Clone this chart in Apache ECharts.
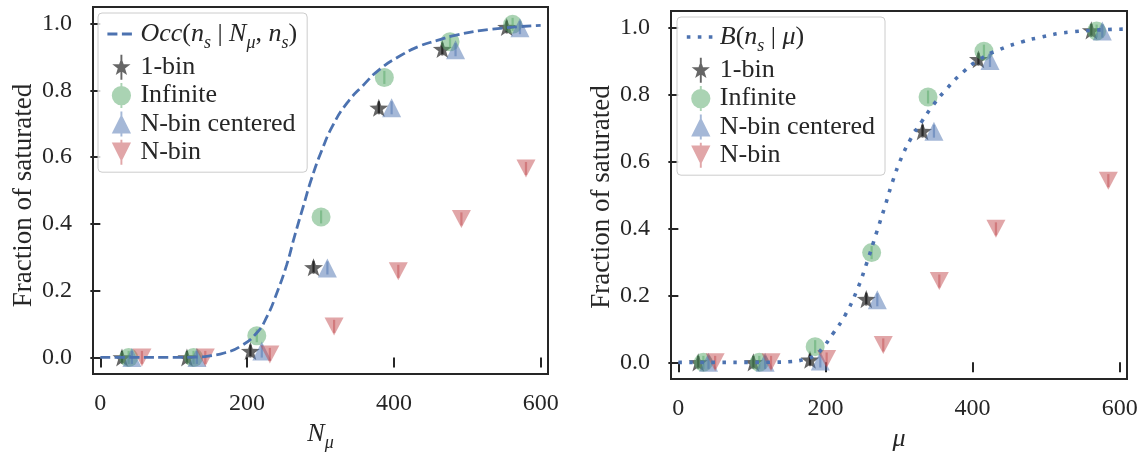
<!DOCTYPE html>
<html>
<head>
<meta charset="utf-8">
<script src="https://cdn.jsdelivr.net/npm/echarts@6/dist/echarts.min.js"></script>
<style>
html, body { margin: 0; padding: 0; background: #ffffff; }
#chart { width: 1142px; height: 457px; }
</style>
</head>
<body>
<div id="chart"></div>
<script>
// ---- Tick values shared by both panels ----
const xTicks = [0, 200, 400, 600];
const yTicks = [0, 0.2, 0.4, 0.6, 0.8, 1.0];

// ---- Left panel: occupancy model Occ(n_s | N_mu, n_s) ----
const occCurveX = [0, 50, 100, 130, 150, 170, 190, 213, 227, 240, 254, 265, 277, 288, 302, 317, 336, 358, 381, 408, 435, 458, 485, 531, 600];
const occCurveY = [0, 0, 0, 0.001, 0.005, 0.014, 0.032, 0.073, 0.122, 0.19, 0.278, 0.366, 0.456, 0.537, 0.622, 0.696, 0.762, 0.815, 0.864, 0.903, 0.933, 0.949, 0.966, 0.983, 0.995];

const leftOneBinX = [29.5, 118, 204.5, 290.5, 379.5, 466, 553.7];
const leftOneBinY = [0, 0, 0.019, 0.27, 0.748, 0.924, 0.99];
const leftInfiniteX = [38.6, 127, 213.2, 300.8, 387, 476.5, 561.8];
const leftInfiniteY = [0, 0, 0.065, 0.421, 0.839, 0.946, 0.998];
const leftCenteredX = [43, 131.6, 220, 309.4, 396.9, 484, 571.8];
const leftCenteredY = [0, 0, 0.019, 0.268, 0.748, 0.922, 0.988];
const leftNBinX = [56.7, 143, 231, 318.5, 406, 492, 580];
const leftNBinY = [0, 0, 0.009, 0.093, 0.258, 0.415, 0.566];

// ---- Right panel: binomial model B(n_s | mu) ----
const binCurveX = [0, 50, 100, 130, 150, 170, 185, 195, 210.6, 226.5, 242.4, 256, 269.6, 281, 292, 303.6, 317, 331, 346.6, 365, 387, 410, 437, 469, 487, 532, 610];
const binCurveY = [0, 0, 0, 0.0005, 0.002, 0.008, 0.02, 0.04, 0.087, 0.14, 0.213, 0.296, 0.389, 0.467, 0.545, 0.613, 0.672, 0.72, 0.769, 0.818, 0.867, 0.906, 0.935, 0.959, 0.969, 0.987, 0.996];

const rightOneBinX = [27, 102, 179, 255.5, 332, 408, 561.5];
const rightOneBinY = [0, 0, 0.008, 0.189, 0.691, 0.906, 0.992];
const rightInfiniteX = [34, 110, 186, 262.8, 339.5, 415.5, 568.7];
const rightInfiniteY = [0, 0, 0.047, 0.328, 0.793, 0.93, 0.99];
const rightCenteredX = [41, 118, 193, 270.5, 347.5, 423.7, 576.4];
const rightCenteredY = [0, 0, 0.004, 0.187, 0.691, 0.902, 0.99];
const rightNBinX = [50, 126, 201.6, 278.6, 354.8, 431.8, 584.6];
const rightNBinY = [0, 0, 0.01, 0.052, 0.243, 0.399, 0.543];

const zip = (xs, ys) => xs.map((x, i) => [x, ys[i]]);

const TEXT = '#262626';
const FONT = 'Liberation Serif';
const BLUE = '#4C72B0', GREEN = '#55A868', RED = '#C44E52', BLACK = '#000000';

const STAR = 'path://M0,-10 L2.35,-3.24 L9.51,-3.09 L3.8,1.24 L5.88,8.09 L0,4 L-5.88,8.09 L-3.8,1.24 L-9.51,-3.09 L-2.35,-3.24 Z';

// legend glyphs: marker with its vertical error bar
const ICON_STAR = 'path://M0,-10 L2.35,-3.24 L9.51,-3.09 L3.8,1.24 L5.88,8.09 L0,4 L-5.88,8.09 L-3.8,1.24 L-9.51,-3.09 L-2.35,-3.24 Z M-1,-13 L1,-13 L1,13 L-1,13 Z';
const ICON_CIRCLE = 'path://M-10,0 A10,10 0 1,1 10,0 A10,10 0 1,1 -10,0 Z M-1,-13 L1,-13 L1,13 L-1,13 Z';
const ICON_UP = 'path://M0,-10 L10,10 L-10,10 Z M-1,-13 L1,-13 L1,13 L-1,13 Z';
const ICON_DOWN = 'path://M-10,-10 L10,-10 L0,10 Z M-1,-13 L1,-13 L1,13 L-1,13 Z';

const methods = [
  { name: '1-bin', color: BLACK, opacity: 0.6, symbol: STAR, size: 19, rotate: 0, icon: ICON_STAR,
    left: [leftOneBinX, leftOneBinY], right: [rightOneBinX, rightOneBinY] },
  { name: 'Infinite', color: GREEN, opacity: 0.5, symbol: 'circle', size: 19, rotate: 0, icon: ICON_CIRCLE,
    left: [leftInfiniteX, leftInfiniteY], right: [rightInfiniteX, rightInfiniteY] },
  { name: 'N-bin centered', color: BLUE, opacity: 0.5, symbol: 'triangle', size: [19, 19], rotate: 0, icon: ICON_UP,
    left: [leftCenteredX, leftCenteredY], right: [rightCenteredX, rightCenteredY] },
  { name: 'N-bin', color: RED, opacity: 0.5, symbol: 'triangle', size: [19, 18], rotate: 180, icon: ICON_DOWN,
    left: [leftNBinX, leftNBinY], right: [rightNBinX, rightNBinY] }
];

function markerSeries(m, idx, pts) {
  return [
    {
      name: m.name, type: 'scatter', xAxisIndex: idx, yAxisIndex: idx,
      data: pts, symbol: m.symbol, symbolSize: m.size, symbolRotate: m.rotate,
      symbolKeepAspect: true,
      itemStyle: { color: m.color, opacity: m.opacity },
      emphasis: { disabled: true }, silent: true
    },
    {
      name: m.name + ' error', type: 'scatter', xAxisIndex: idx, yAxisIndex: idx,
      data: pts, symbol: 'rect', symbolSize: [2.2, 13],
      itemStyle: { color: m.color, opacity: m.opacity },
      emphasis: { disabled: true }, silent: true
    }
  ];
}

function xAxisFor(idx, name) {
  return {
    type: 'value', gridIndex: idx, min: -10, max: 610,
    axisLine: { show: false },
    axisTick: { show: true, length: 10, customValues: xTicks, lineStyle: { color: TEXT, width: 2 } },
    axisLabel: { customValues: xTicks, margin: 18, color: TEXT, fontFamily: FONT, fontSize: 24 },
    splitLine: { show: false },
    name: name, nameLocation: 'middle', nameGap: 46,
    nameTextStyle: {
      color: TEXT, fontFamily: FONT, fontSize: 26,
      rich: {
        it: { fontStyle: 'italic', fontFamily: FONT, fontSize: 26, color: TEXT },
        sub: { fontStyle: 'italic', fontFamily: FONT, fontSize: 18, color: TEXT, padding: [9, 0, -9, 0] }
      }
    }
  };
}

function yAxisFor(idx, shift) {
  return {
    type: 'value', gridIndex: idx, min: -0.05, max: 1.05,
    axisLine: { show: false },
    axisTick: { show: true, length: 10, customValues: yTicks, lineStyle: { color: TEXT, width: 2 } },
    axisLabel: { customValues: yTicks, margin: 21, color: TEXT, fontFamily: FONT, fontSize: 24,
                 formatter: v => v.toFixed(1) },
    splitLine: { show: false },
    name: 'Fraction of saturated', nameLocation: 'middle', nameGap: 56,
    nameTextStyle: { color: TEXT, fontFamily: FONT, fontSize: 27, padding: [0, shift, 0, 0] }
  };
}

const mathRich = (lh) => ({
  it: { fontStyle: 'italic', fontFamily: FONT, fontSize: 26, color: TEXT, lineHeight: lh },
  rm: { fontFamily: FONT, fontSize: 26, color: TEXT, lineHeight: lh },
  sub: { fontStyle: 'italic', fontFamily: FONT, fontSize: 18, color: TEXT, padding: [9, 0, -9, 0] }
});

function legendFor(left, top, lineName, lineWidth, rich) {
  return {
    orient: 'vertical', left: left, top: top,
    itemWidth: 28, itemHeight: 25, itemGap: 2.3,
    padding: [7, 10, 7, 8],
    backgroundColor: 'rgba(255,255,255,0.8)',
    borderColor: '#cccccc', borderWidth: 1, borderRadius: 4,
    selectedMode: false,
    lineStyle: { width: lineWidth },
    textStyle: { color: TEXT, fontFamily: FONT, fontSize: 26, lineHeight: 26, rich: rich },
    formatter: function (name) {
      if (name === 'occ') return '{it|Occ}{rm|(}{it|n}{sub|s}{rm| | }{it|N}{sub|μ}{rm|, }{it|n}{sub|s}{rm|)}';
      if (name === 'binom') return '{it|B}{rm|(}{it|n}{sub|s}{rm| | }{it|μ}{rm|)}';
      return name;
    },
    // the curve entry shows only its stroke, no point glyph
    data: [{ name: lineName, itemStyle: { opacity: 0 } }].concat(methods.map(m => ({
      name: m.name, icon: m.icon,
      itemStyle: { color: m.color, opacity: m.opacity }
    })))
  };
}

const series = [
  {
    name: 'occ', type: 'line', xAxisIndex: 0, yAxisIndex: 0,
    data: zip(occCurveX, occCurveY), smooth: 0.5,
    symbol: 'none', lineStyle: { color: BLUE, width: 2.8, type: [10, 4.5], cap: 'butt' },
    itemStyle: { color: BLUE }, silent: true
  },
  {
    name: 'binom', type: 'line', xAxisIndex: 1, yAxisIndex: 1,
    data: zip(binCurveX, binCurveY), smooth: 0.5,
    symbol: 'none', lineStyle: { color: BLUE, width: 3.6, type: [3.6, 7.4], cap: 'butt' },
    itemStyle: { color: BLUE }, silent: true
  }
];
methods.forEach(m => {
  series.push(...markerSeries(m, 0, zip(m.left[0], m.left[1])));
  series.push(...markerSeries(m, 1, zip(m.right[0], m.right[1])));
});

const chart = echarts.init(document.getElementById('chart'), null, { renderer: 'canvas' });
chart.setOption({
  animation: false,
  backgroundColor: '#ffffff',
  grid: [
    { left: 93, top: 7, width: 455, height: 375, show: true, borderColor: TEXT, borderWidth: 2, backgroundColor: 'transparent' },
    { left: 671, top: 11, width: 456, height: 376, show: true, borderColor: TEXT, borderWidth: 2, backgroundColor: 'transparent' }
  ],
  xAxis: [xAxisFor(0, '{it|N}{sub|μ}'), xAxisFor(1, '{it|μ}')],
  yAxis: [yAxisFor(0, 10), yAxisFor(1, 4)],
  legend: [
    legendFor(98, 13, 'occ', 2.8, mathRich(28)),
    legendFor(677, 17, 'binom', 3.6, mathRich(26))
  ],
  series: series
});
</script>
</body>
</html>
